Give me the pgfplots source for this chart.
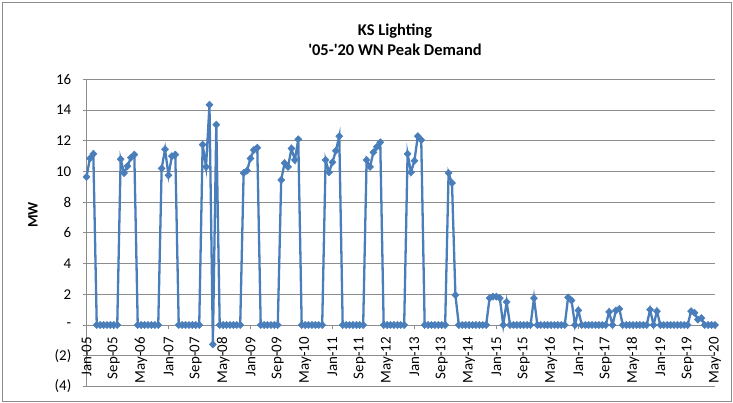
\documentclass[border=0pt]{standalone}
\usepackage{fontspec}
\setmainfont{Carlito}
\usepackage{pgfplots}
\pgfplotsset{compat=1.18}
\definecolor{serblue}{HTML}{4A7EBB}
\definecolor{gridgray}{HTML}{8C8C8C}
\begin{document}
\begin{tikzpicture}
\path[use as bounding box] (0bp,0bp) rectangle (733bp,403bp);
\draw[gridgray, line width=1bp] (2.5bp,1.5bp) rectangle (731bp,400.5bp);
\node[font=\fontsize{16.5}{18}\selectfont\bfseries] at (395bp,372bp) {KS Lighting};
\node[font=\fontsize{16.5}{18}\selectfont\bfseries] at (395bp,353bp) {\textquotesingle05-\textquotesingle20 WN Peak Demand};
\node[rotate=90, font=\fontsize{14.5}{16}\selectfont\bfseries] at (33bp,188bp) {MW};
\begin{axis}[
  at={(86.5bp,78bp)}, anchor=origin,
  scale only axis, width=628.5bp, height=307bp,
  xmin=0, xmax=184, ymin=-4, ymax=16,
  axis x line=middle, axis y line=left,
  hide obscured x ticks=false,
  axis line style={-, draw=gridgray, line width=0.9bp},
  ytick={-4,-2,...,16},
  yticklabels={(4),(2),{-\hspace{11bp}},2\hspace{2bp},4\hspace{2bp},6\hspace{2bp},8\hspace{2bp},10\hspace{2bp},12\hspace{2bp},14\hspace{2bp},16\hspace{2bp}},
  ymajorgrids,
  grid style={gridgray, line width=0.9bp},
  ytick align=outside, xtick align=outside,
  major tick length=4bp,
  tick style={gridgray, line width=0.9bp},
  yticklabel style={font=\fontsize{15}{17}\selectfont, inner sep=1bp, xshift=-10bp},
  xtick={0,8,...,184},
  xticklabels={Jan-05,Sep-05,May-06,Jan-07,Sep-07,May-08,Jan-09,Sep-09,May-10,Jan-11,Sep-11,May-12,Jan-13,Sep-13,May-14,Jan-15,Sep-15,May-16,Jan-17,Sep-17,May-18,Jan-19,Sep-19,May-20},
  xticklabel style={font=\fontsize{15}{17}\selectfont, yshift=-7bp, rotate=90, anchor=east, inner sep=1bp},
  clip=false,
]
\addplot[serblue, line width=2.3bp, mark=diamond*, mark size=3.6bp, mark options={xscale=1.3, fill=serblue, draw=serblue, line width=0.5bp}] table[x=i, y=v] {
i v
0 9.65
1 10.85
2 11.15
3 0
4 0
5 0
6 0
7 0
8 0
9 0
10 10.8
11 9.9
12 10.35
13 10.9
14 11.1
15 0
16 0
17 0
18 0
19 0
20 0
21 0
22 10.2
23 11.45
24 9.75
25 11.0
26 11.1
27 0
28 0
29 0
30 0
31 0
32 0
33 0
34 11.75
35 10.3
36 14.35
37 -1.26
38 13.05
39 0
40 0
41 0
42 0
43 0
44 0
45 0
46 9.9
47 10.05
48 10.85
49 11.4
50 11.55
51 0
52 0
53 0
54 0
55 0
56 0
57 9.45
58 10.55
59 10.3
60 11.5
61 10.75
62 12.1
63 0
64 0
65 0
66 0
67 0
68 0
69 0
70 10.75
71 9.95
72 10.6
73 11.35
74 12.3
75 0
76 0
77 0
78 0
79 0
80 0
81 0
82 10.75
83 10.3
84 11.25
85 11.6
86 11.9
87 0
88 0
89 0
90 0
91 0
92 0
93 0
94 11.15
95 9.95
96 10.7
97 12.3
98 12.05
99 0
100 0
101 0
102 0
103 0
104 0
105 0
106 9.9
107 9.25
108 1.95
109 0
110 0
111 0
112 0
113 0
114 0
115 0
116 0
117 0
118 1.75
119 1.85
120 1.85
121 1.75
122 0
123 1.5
124 0
125 0
126 0
127 0
128 0
129 0
130 0
131 1.75
132 0
133 0
134 0
135 0
136 0
137 0
138 0
139 0
140 0
141 1.8
142 1.6
143 0
144 0.95
145 0
146 0
147 0
148 0
149 0
150 0
151 0
152 0
153 0.85
154 0
155 0.95
156 1.05
157 0
158 0
159 0
160 0
161 0
162 0
163 0
164 0
165 1.0
166 0
167 0.9
168 0
169 0
170 0
171 0
172 0
173 0
174 0
175 0
176 0
177 0.9
178 0.8
179 0.35
180 0.45
181 0
182 0
183 0
184 0
};
\end{axis}
\end{tikzpicture}
\end{document}
